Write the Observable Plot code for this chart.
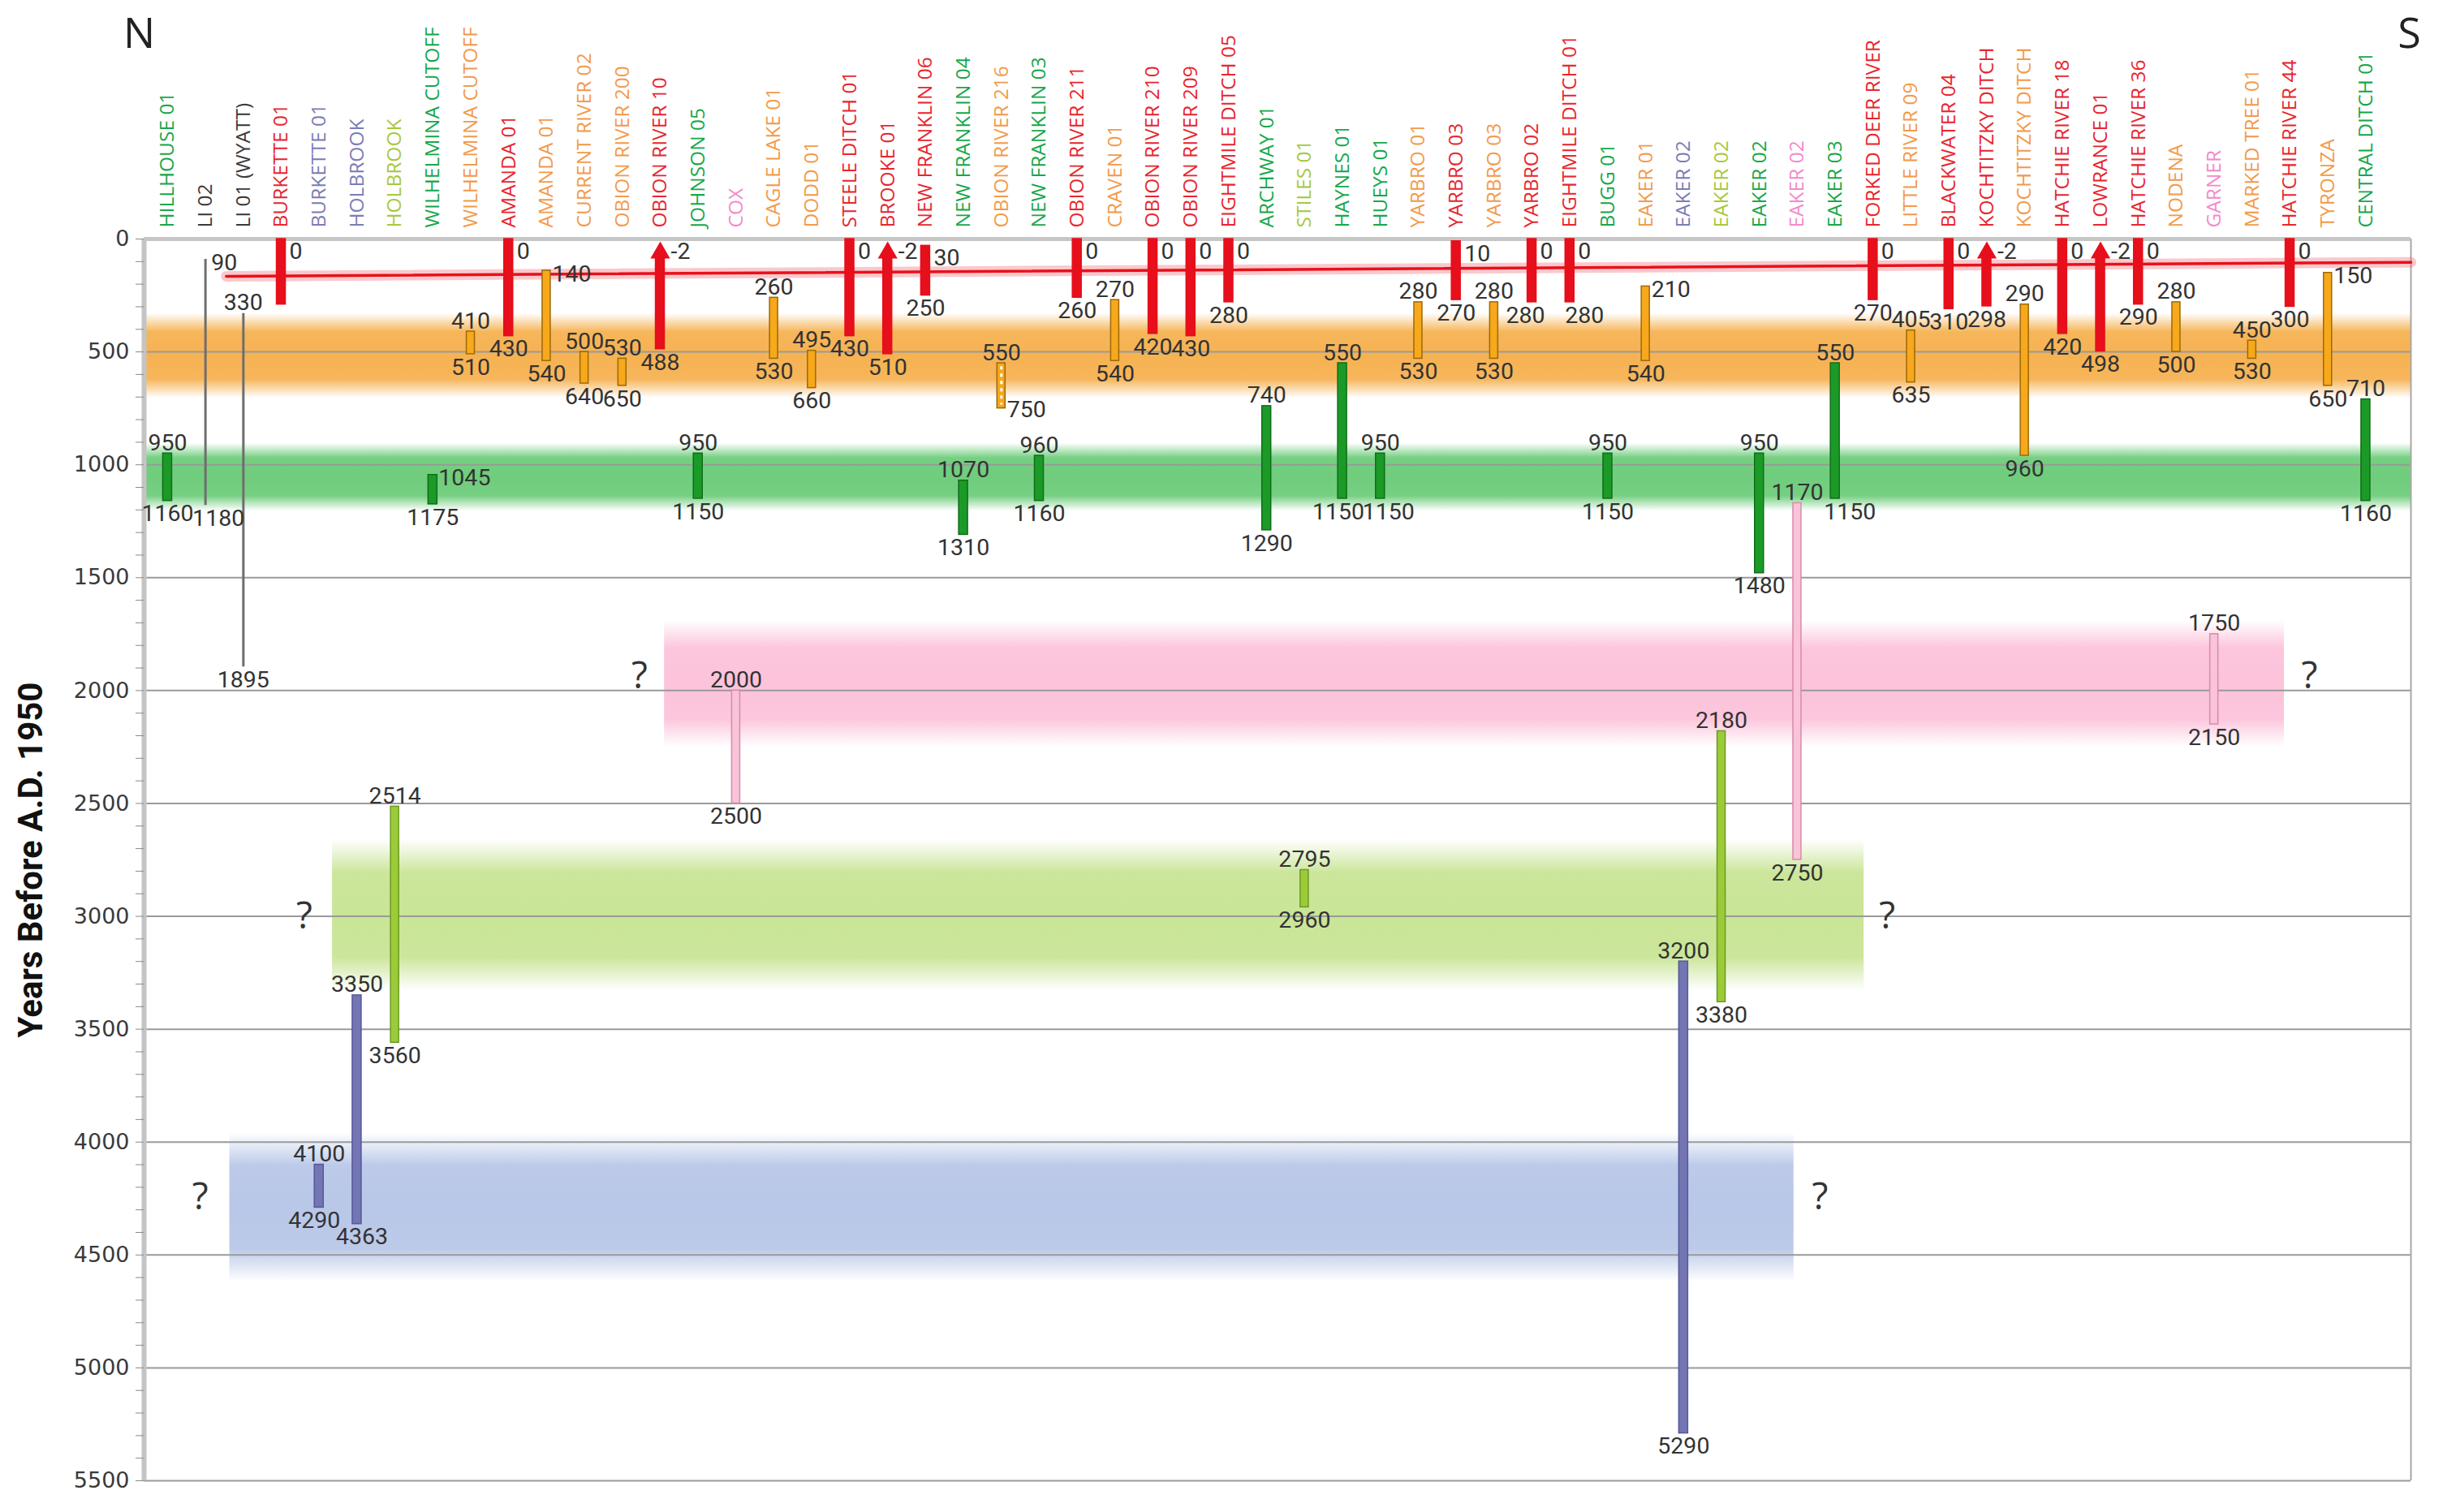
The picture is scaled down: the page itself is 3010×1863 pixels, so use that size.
<!DOCTYPE html>
<html><head><meta charset="utf-8">
<script src="https://cdn.jsdelivr.net/npm/d3@7"></script>
<script src="https://cdn.jsdelivr.net/npm/@observablehq/plot@0.6"></script>
<style>body{margin:0;background:#fff} svg{display:block}</style>
</head><body><div id="chart"></div>
<script>
// ---------------- data ----------------
const sites = ["HILLHOUSE 01","LI 02","LI 01 (WYATT)","BURKETTE 01","BURKETTE 01","HOLBROOK","HOLBROOK","WILHELMINA CUTOFF","WILHELMINA CUTOFF","AMANDA 01","AMANDA 01","CURRENT RIVER 02","OBION RIVER 200","OBION RIVER 10","JOHNSON 05","COX","CAGLE LAKE 01","DODD 01","STEELE DITCH 01","BROOKE 01","NEW FRANKLIN 06","NEW FRANKLIN 04","OBION RIVER 216","NEW FRANKLIN 03","OBION RIVER 211","CRAVEN 01","OBION RIVER 210","OBION RIVER 209","EIGHTMILE DITCH 05","ARCHWAY 01","STILES 01","HAYNES 01","HUEYS 01","YARBRO 01","YARBRO 03","YARBRO 03","YARBRO 02","EIGHTMILE DITCH 01","BUGG 01","EAKER 01","EAKER 02","EAKER 02","EAKER 02","EAKER 02","EAKER 03","FORKED DEER RIVER","LITTLE RIVER 09","BLACKWATER 04","KOCHTITZKY DITCH","KOCHTITZKY DITCH","HATCHIE RIVER 18","LOWRANCE 01","HATCHIE RIVER 36","NODENA","GARNER","MARKED TREE 01","HATCHIE RIVER 44","TYRONZA","CENTRAL DITCH 01"];
const phases = ["green","gray","gray","red","slate","slate","lime","green","orange","red","orange","orange","orange","redArrow","green","pink","orange","orange","red","redArrow","red","green","orangeDashed","green","red","orange","red","red","red","green","lime","green","green","orange","red","orange","red","red","green","orange","slate","lime","green","pink","green","red","orange","red","redArrow","orange","red","redArrow","red","orange","pink","orange","red","orange","green"];
const tops = [950,90,330,0,4100,3350,2514,1045,410,0,140,500,530,-2,950,2000,260,495,0,-2,30,1070,550,960,0,270,0,0,0,740,2795,550,950,280,10,280,0,0,950,210,3200,2180,950,1170,550,0,405,0,-2,290,0,-2,0,280,1750,450,0,150,710];
const bottoms = [1160,1180,1895,290,4290,4363,3560,1175,510,430,540,640,650,488,1150,2500,530,660,430,510,250,1310,750,1160,260,540,420,430,280,1290,2960,1150,1150,530,270,530,280,280,1150,540,5290,3380,1480,2750,1150,270,635,310,298,960,420,498,290,500,2150,530,300,650,1160];
const unlabelledBottoms = [3];
const redLine = [{i: 1.55, y: 165}, {i: 59.19, y: 103}];
const bands = [
  {key: "orange", i1: -0.62, i2: 59.19, y1: 330, y2: 705, color: "#f6b252"},
  {key: "green", i1: -0.62, i2: 59.19, y1: 905, y2: 1205, color: "#6fcd7c"},
  {key: "pink", i1: 13.11, i2: 55.85, y1: 1690, y2: 2250, color: "#fcc3db"},
  {key: "lime", i1: 4.35, i2: 44.76, y1: 2660, y2: 3330, color: "#c9e596"},
  {key: "blue", i1: 1.64, i2: 42.91, y1: 3960, y2: 4620, color: "#b9c7e8"}
];
const questionMarks = [{i: 12.45, y: 1935}, {i: 56.51, y: 1935}, {i: 3.61, y: 3000}, {i: 45.37, y: 3000}, {i: 0.86, y: 4245}, {i: 43.6, y: 4245}];
const yTicks = d3.range(0, 5501, 500);
const yMinorTicks = d3.range(0, 5501, 100);

// ---------------- styling ----------------
const W = 3010, H = 1863, ML = 177, MR = 40, MT = 294, MB = 39;
const xDomain = [-0.62, 59.19];
const unit = (W - ML - MR) / (xDomain[1] - xDomain[0]);
const phaseStyle = {
  red:          {fill: "#e60f1b", stroke: "#e60f1b", w: 11, label: "#e8262e"},
  redArrow:     {fill: "#e60f1b", stroke: "#e60f1b", w: 11, label: "#e8262e"},
  orange:       {fill: "#f7a81b", stroke: "#9c6a08", w: 10, label: "#f39b4a"},
  orangeDashed: {fill: "#f7a81b", stroke: "#9c6a08", w: 10, label: "#f39b4a"},
  green:        {fill: "#1c9a28", stroke: "#0f6e18", w: 11, label: "#17a84a"},
  gray:         {fill: "#6e6e6e", stroke: "#6e6e6e", w: 3,  label: "#3a3a3a"},
  slate:        {fill: "#7376b3", stroke: "#55589a", w: 11, label: "#7b7db5"},
  lime:         {fill: "#9ccb3a", stroke: "#6c9a20", w: 10, label: "#a6c93c"},
  pink:         {fill: "#f9c3d8", stroke: "#d98aab", w: 10, label: "#f38bcb"}
};
const topRight = [1, 7, 10, 39, 57];
const bottomRight = [22];
const bottomShift = {1: 16, 4: -6, 5: 6, 31: -5, 32: 10, 36: -8, 37: 18, 44: 18};

const recs = sites.map((name, i) => ({i, name, phase: phases[i], top: tops[i], bottom: bottoms[i]}));
const isRed = d => d.phase === "red" || d.phase === "redArrow";
const numFont = {fontFamily: "Roboto, sans-serif", fontSize: 28.5, fill: "#333"};

const topNormal = recs.filter(d => !isRed(d) && !topRight.includes(d.i));
const topRightRecs = recs.filter(d => topRight.includes(d.i));
const bottomNormal = recs.filter(d => !unlabelledBottoms.includes(d.i) && !bottomRight.includes(d.i) && !(d.i in bottomShift));

const marks = [
  // bands
  ...bands.map(b => Plot.rect([b], {x1: "i1", x2: "i2", y1: "y1", y2: "y2", fill: `url(#band-${b.key})`})),
  // grid
  Plot.ruleY(yTicks, {stroke: "#9a9a9a", strokeWidth: 2}),
  Plot.ruleX([xDomain[0]], {stroke: "#c4c4c4", strokeWidth: 6}),
  Plot.ruleX([xDomain[1]], {stroke: "#a8a8a8", strokeWidth: 2}),
  Plot.ruleY([0], {stroke: "#c6c6c6", strokeWidth: 5}),
  // axis
  Plot.axisY(yMinorTicks, {tickSize: 10, tickFormat: () => "", stroke: "#8a8a8a", label: null}),
  Plot.axisY(yTicks, {tickSize: 0, tickPadding: 18, tickFormat: d => String(d), fontSize: 27, fontFamily: "DejaVu Sans, sans-serif", color: "#3a3a3a", label: null}),
  // red trend line with glow
  Plot.line(redLine, {x: "i", y: "y", stroke: "#f2606e", strokeOpacity: 0.35, strokeWidth: 13}),
  Plot.line(redLine, {x: "i", y: "y", stroke: "#e8101a", strokeWidth: 3.5}),
  // gray lines
  Plot.ruleX(recs.filter(d => d.phase === "gray"), {x: "i", y1: "top", y2: "bottom", stroke: "#6e6e6e", strokeWidth: 3}),
  // bars
  Plot.rect(recs.filter(d => d.phase !== "gray"), {
    x1: d => d.i - phaseStyle[d.phase].w / 2 / unit,
    x2: d => d.i + phaseStyle[d.phase].w / 2 / unit,
    y1: d => d.phase === "redArrow" ? 61 : d.top,
    y2: "bottom",
    fill: d => phaseStyle[d.phase].fill,
    stroke: d => phaseStyle[d.phase].stroke,
    strokeWidth: 1.5
  }),
  Plot.ruleX(recs.filter(d => d.phase === "orangeDashed"), {x: "i", y1: d => d.top + 15, y2: d => d.bottom - 15, stroke: "white", strokeWidth: 3, strokeDasharray: "4,5"}),
  Plot.dot(recs.filter(d => d.phase === "redArrow"), {x: "i", y: d => 61, symbol: "triangle", r: 9, fill: "#e60f1b", stroke: null}),
  // site labels
  Plot.text(recs, {x: "i", y: d => 0, text: "name", rotate: -90, textAnchor: "start", dy: -14,
    fill: d => phaseStyle[d.phase].label, fontSize: 24.5, fontFamily: "'Open Sans', sans-serif"}),
  // value labels - tops
  Plot.text(recs.filter(d => d.phase === "red"), {x: "i", y: d => Math.max(0, d.top), text: d => String(d.top), dx: 10, dy: 4, textAnchor: "start", lineAnchor: "top", ...numFont}),
  Plot.text(recs.filter(d => d.phase === "redArrow"), {x: "i", y: d => 0, text: d => String(d.top), dx: 13, dy: 4, textAnchor: "start", lineAnchor: "top", ...numFont}),
  Plot.text(topRightRecs, {x: "i", y: "top", text: d => String(d.top), dx: 7, dy: 4, textAnchor: "start", lineAnchor: "middle", ...numFont}),
  Plot.text(topNormal, {x: "i", y: "top", text: d => String(d.top), dy: -4, lineAnchor: "bottom", ...numFont}),
  // value labels - bottoms
  Plot.text(bottomNormal, {x: "i", y: "bottom", text: d => String(d.bottom), dy: 5, lineAnchor: "top", ...numFont}),
  ...Object.entries(bottomShift).map(([k, dx]) => Plot.text(recs.filter(d => d.i === +k), {x: "i", y: "bottom", text: d => String(d.bottom), dx, dy: 5, lineAnchor: "top", ...numFont})),
  Plot.text(recs.filter(d => bottomRight.includes(d.i)), {x: "i", y: "bottom", text: d => String(d.bottom), dx: 7, dy: 2, textAnchor: "start", lineAnchor: "middle", ...numFont}),
  // question marks
  Plot.text(questionMarks, {x: "i", y: "y", text: d => "?", fontSize: 46, fontFamily: "'Open Sans', sans-serif", fill: "#333"}),
  // N / S
  Plot.text(["N"], {frameAnchor: "top-left", dx: -6, dy: -252, textAnchor: "middle", lineAnchor: "middle", fontSize: 52, fontFamily: "'Open Sans', sans-serif", fill: "#222"}),
  Plot.text(["S"], {frameAnchor: "top-right", dx: -2, dy: -252, textAnchor: "middle", lineAnchor: "middle", fontSize: 52, fontFamily: "'Open Sans', sans-serif", fill: "#222"}),
  // axis title
  Plot.text(["Years Before A.D. 1950"], {frameAnchor: "left", rotate: -90, dx: -139, textAnchor: "middle", lineAnchor: "middle",
    fontSize: 42, fontWeight: "bold", fontFamily: "Roboto, sans-serif", fill: "#111"})
];

const chart = Plot.plot({
  width: W, height: H,
  marginLeft: ML, marginRight: MR, marginTop: MT, marginBottom: MB,
  x: {domain: xDomain, axis: null},
  y: {domain: [0, 5500], reverse: true},
  color: {type: "identity"},
  style: {background: "white", overflow: "visible"},
  marks
});

const svg = chart.tagName.toLowerCase() === "svg" ? chart : chart.querySelector("svg");
const defs = d3.select(svg).insert("defs", ":first-child");
for (const b of bands) {
  const g = defs.append("linearGradient").attr("id", "band-" + b.key)
    .attr("x1", 0).attr("x2", 0).attr("y1", 0).attr("y2", 1);
  [[0, 0], [0.22, 0.95], [0.5, 1], [0.78, 0.95], [1, 0]].forEach(([o, a]) =>
    g.append("stop").attr("offset", o).attr("stop-color", b.color).attr("stop-opacity", a));
}
document.getElementById("chart").appendChild(chart);
</script>
</body></html>
